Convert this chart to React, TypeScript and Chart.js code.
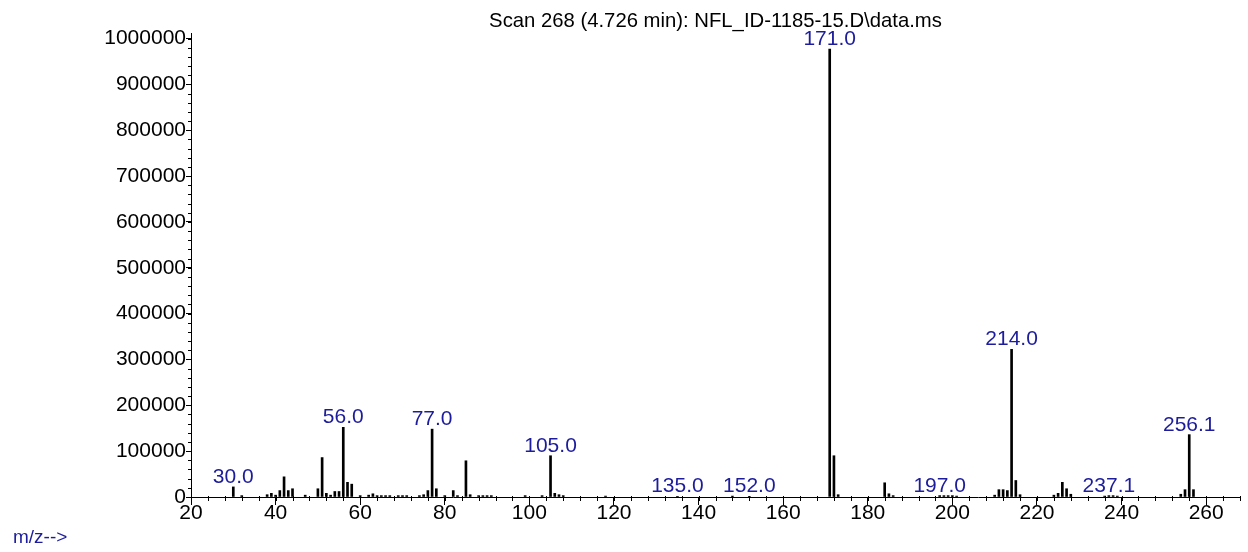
import React, { useEffect, useRef } from 'react';
import { Chart, registerables } from 'chart.js';

Chart.register(...registerables);

// m/z values of the peaks (x) and their abundances (y)
const mzValues = [
  30, 32, 38, 39, 40, 41, 42, 43, 44, 47, 50, 51, 52, 53, 54, 55, 56, 57, 58, 60,
  62, 63, 64, 65, 66, 67, 69, 70, 71, 74, 75, 76, 77, 78, 80, 82, 83, 85, 86, 88,
  89, 90, 91, 99, 103, 105, 106, 107, 108, 118, 135, 148, 152, 171, 172, 173, 184, 185, 186, 197,
  198, 199, 200, 201, 210, 211, 212, 213, 214, 215, 216, 224, 225, 226, 227, 228, 236, 237, 238, 239,
  254, 255, 256, 257,
];
const abundances = [
  22000, 3000, 5000, 8000, 4000, 14000, 44000, 14000, 18000, 4000, 18000, 86000, 8000, 4000, 12000, 12000, 152000, 32000, 28000, 3000,
  4000, 7000, 3000, 3000, 3000, 3000, 3000, 3000, 3000, 3000, 5000, 14000, 148000, 18000, 3000, 14000, 3000, 79000, 5000, 3000,
  3000, 3000, 3000, 3000, 3000, 90000, 8000, 5000, 3000, 2000, 1500, 2000, 1500, 977000, 90000, 5000, 31000, 7000, 3000, 3000,
  3000, 3000, 3000, 2000, 4000, 16000, 16000, 14000, 322000, 36000, 5000, 4000, 8000, 32000, 18000, 6000, 2000, 3000, 3000, 2000,
  6000, 16000, 136000, 16000,
];

// annotated peaks
const peakLabelMz = [30, 56, 77, 105, 135, 152, 171, 197, 214, 237, 256];
const peakLabelText = ['30.0', '56.0', '77.0', '105.0', '135.0', '152.0', '171.0', '197.0', '214.0', '237.1', '256.1'];

// axis tick values
const xTickValues = [20, 40, 60, 80, 100, 120, 140, 160, 180, 200, 220, 240, 260];
const yTickValues = [0, 100000, 200000, 300000, 400000, 500000, 600000, 700000, 800000, 900000, 1000000];

const titleText = 'Scan 268 (4.726 min): NFL_ID-1185-15.D\\data.ms';
const xAxisText = 'm/z-->';

const X_MIN = 20;
const X_MAX = 268;
const X_MINOR = 4;
const Y_MIN = 0;
const Y_MAX = 1012000;
const Y_MINOR = 20000;

const BLUE = '#1c1c9c';
const FONT = '"Liberation Sans", Arial, sans-serif';

const decorPlugin = {
  id: 'decor',
  afterDraw(chart: any) {
    const { ctx, chartArea } = chart;
    const x = chart.scales.x;
    const y = chart.scales.y;
    ctx.save();
    // minor ticks
    ctx.strokeStyle = '#000';
    ctx.lineWidth = 1;
    ctx.beginPath();
    for (let v = X_MIN; v <= X_MAX + 0.001; v += X_MINOR) {
      const px = Math.round(x.getPixelForValue(v)) + 0.5;
      ctx.moveTo(px, chartArea.bottom - 1);
      ctx.lineTo(px, chartArea.bottom + 4);
    }
    for (let v = Y_MIN; v <= Y_MAX; v += Y_MINOR) {
      const py = Math.round(y.getPixelForValue(v)) + 0.5;
      ctx.moveTo(chartArea.left - 3, py);
      ctx.lineTo(chartArea.left + 1, py);
    }
    ctx.stroke();

    // peak labels
    ctx.fillStyle = BLUE;
    ctx.font = `21px ${FONT}`;
    ctx.textAlign = 'center';
    ctx.textBaseline = 'alphabetic';
    peakLabelMz.forEach((mz, i) => {
      const idx = mzValues.indexOf(mz);
      const val = idx >= 0 ? abundances[idx] : 0;
      ctx.fillText(peakLabelText[i], x.getPixelForValue(mz), y.getPixelForValue(val) - 4);
    });

    // title
    ctx.fillStyle = '#000';
    ctx.font = `20.3px ${FONT}`;
    ctx.textAlign = 'center';
    ctx.fillText(titleText, (chartArea.left + chartArea.right) / 2, 27);

    // x axis caption
    ctx.fillStyle = BLUE;
    ctx.font = `19px ${FONT}`;
    ctx.textAlign = 'left';
    ctx.fillText(xAxisText, 13, 543);
    ctx.restore();
  },
};

export default function App() {
  const canvasRef = useRef<HTMLCanvasElement | null>(null);

  useEffect(() => {
    document.body.style.margin = '0';
    const canvas = canvasRef.current;
    if (!canvas) return;
    const chart = new Chart(canvas, {
      type: 'bar',
      data: {
        datasets: [
          {
            data: mzValues.map((m, i) => ({ x: m, y: abundances[i] })),
            backgroundColor: '#000',
            borderWidth: 0,
            barThickness: 2,
          },
        ],
      },
      options: {
        animation: false,
        responsive: false,
        maintainAspectRatio: false,
        events: [],
        layout: { padding: { left: 0, right: 8, top: 33, bottom: 0 } },
        plugins: { legend: { display: false }, tooltip: { enabled: false }, title: { display: false } },
        scales: {
          x: {
            type: 'linear',
            min: X_MIN,
            max: X_MAX,
            offset: false,
            grid: { display: true, drawOnChartArea: false, drawTicks: true, tickLength: 8, color: '#000', offset: false },
            border: { display: true, color: '#000', width: 1 },
            afterBuildTicks: (s: any) => { s.ticks = xTickValues.map((v) => ({ value: v })); },
            ticks: {
              autoSkip: false,
              maxRotation: 0,
              padding: -4,
              color: '#000',
              font: { family: FONT, size: 21 },
              callback: (v: any) => String(v),
            },
            afterFit: (s: any) => { s.height = 55; },
          },
          y: {
            type: 'linear',
            min: Y_MIN,
            max: Y_MAX,
            grid: { display: true, drawOnChartArea: false, drawTicks: true, tickLength: 5, color: '#000' },
            border: { display: true, color: '#000', width: 1 },
            afterBuildTicks: (s: any) => { s.ticks = yTickValues.map((v) => ({ value: v })); },
            ticks: {
              autoSkip: false,
              padding: 0,
              color: '#000',
              font: { family: FONT, size: 21 },
              callback: (v: any) => String(v),
            },
            afterFit: (s: any) => { s.width = 191; },
          },
        },
      },
      plugins: [decorPlugin],
    });
    return () => chart.destroy();
  }, []);

  return (
    <div style={{ width: 1248, height: 552 }}>
      <canvas ref={canvasRef} width={1248} height={552} style={{ display: 'block' }} />
    </div>
  );
}
